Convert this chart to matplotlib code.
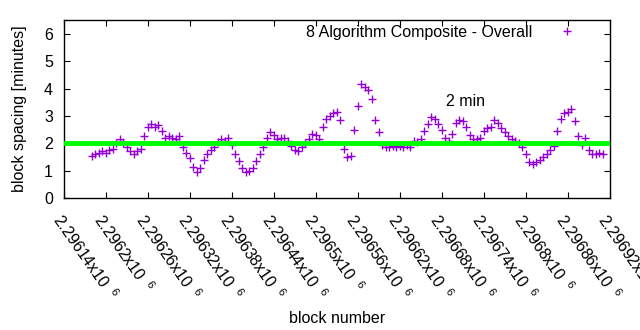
import matplotlib
matplotlib.use("Agg")
import matplotlib.pyplot as plt
import numpy as np

plt.rcParams['font.family'] = ['Liberation Sans', 'DejaVu Sans']
plt.rcParams['mathtext.fontset'] = 'custom'
plt.rcParams['mathtext.rm'] = 'Liberation Sans'

# block numbers (every 5 blocks) and block spacing in minutes
first_block = 2296180
block_step = 5
spacing = [
    1.55, 1.60, 1.65, 1.70, 1.65, 1.75, 1.80, 2.00, 2.15, 2.00,
    1.85, 1.70, 1.60, 1.70, 1.80, 2.25, 2.60, 2.70, 2.60, 2.65,
    2.45, 2.20, 2.25, 2.20, 2.15, 2.25, 1.85, 1.65, 1.45, 1.15,
    0.95, 1.10, 1.40, 1.60, 1.75, 1.85, 2.05, 2.15, 2.10, 2.20,
    1.95, 1.60, 1.35, 1.10, 0.95, 1.00, 1.10, 1.35, 1.60, 1.85,
    2.20, 2.40, 2.30, 2.15, 2.20, 2.20, 2.10, 1.90, 1.75, 1.70,
    1.85, 2.00, 2.15, 2.35, 2.30, 2.15, 2.60, 2.90, 3.00, 3.10,
    3.15, 2.85, 1.80, 1.50, 1.55, 2.50, 3.35, 4.15, 4.05, 3.95,
    3.60, 2.85, 2.40, 1.95, 1.85, 1.85, 1.90, 1.85, 1.90, 1.85,
    1.95, 1.85, 2.10, 2.05, 2.15, 2.45, 2.70, 2.95, 2.90, 2.70,
    2.50, 2.20, 2.10, 2.35, 2.75, 2.85, 2.80, 2.60, 2.30, 2.15,
    2.15, 2.20, 2.45, 2.55, 2.60, 2.85, 2.75, 2.55, 2.40, 2.25,
    2.15, 2.10, 2.00, 1.85, 1.60, 1.30, 1.25, 1.30, 1.40, 1.50,
    1.60, 1.75, 1.90, 2.45, 2.90, 3.10, 3.15, 3.25, 2.80, 2.25,
    1.95, 2.20, 1.75, 1.60, 1.60, 1.65, 1.60,
]
blocks = first_block + block_step * np.arange(len(spacing))

xticks = [2296140, 2296200, 2296260, 2296320, 2296380, 2296440, 2296500,
          2296560, 2296620, 2296680, 2296740, 2296800, 2296860, 2296920]
xtick_labels = ['2.29614', '2.2962', '2.29626', '2.29632', '2.29638', '2.29644',
                '2.2965', '2.29656', '2.29662', '2.29668', '2.29674', '2.2968',
                '2.29686', '2.29692']
target = 2

purple = '#9400d3'
fs = 11.5

fig = plt.figure(figsize=(6.4, 3.3), dpi=100)
ax = fig.add_axes([0.1, 0.4, 0.853, 0.539])

ax.plot(blocks, spacing, linestyle='none', marker='+', markersize=5.5,
        markeredgewidth=1.0, color=purple, label='8 Algorithm Composite - Overall')
ax.axhline(target, xmin=0.003, xmax=0.997, color='#00ff00', linewidth=3.5, zorder=3)
ax.text(2296713, 3.53, '2 min', fontsize=fs, ha='center', va='center')

ax.set_xlim(2296140, 2296920)
ax.set_ylim(0, 6.5)
ax.set_yticks(range(0, 7))
ax.set_xticks(xticks)
ax.set_xticklabels([s + r'x$10^{\ \ 6}$' for s in xtick_labels],
                   rotation=-55, ha='left', va='top', rotation_mode='anchor')
ax.tick_params(direction='in', top=True, right=True, length=4, labelsize=fs,
               color='black')
ax.tick_params(axis='x', pad=9)
ax.tick_params(axis='y', pad=8)
for s in ax.spines.values():
    s.set_linewidth(1.0)

ax.set_xlabel('block number', fontsize=fs, labelpad=6)
ax.set_ylabel('block spacing [minutes]', fontsize=fs, labelpad=12)

leg = ax.legend(loc='upper right', bbox_to_anchor=(0.955, 1.01), frameon=False,
                fontsize=fs, markerfirst=False, handlelength=1.5,
                borderaxespad=0.0, handletextpad=1.4)

fig.savefig('out.png', dpi=100)
